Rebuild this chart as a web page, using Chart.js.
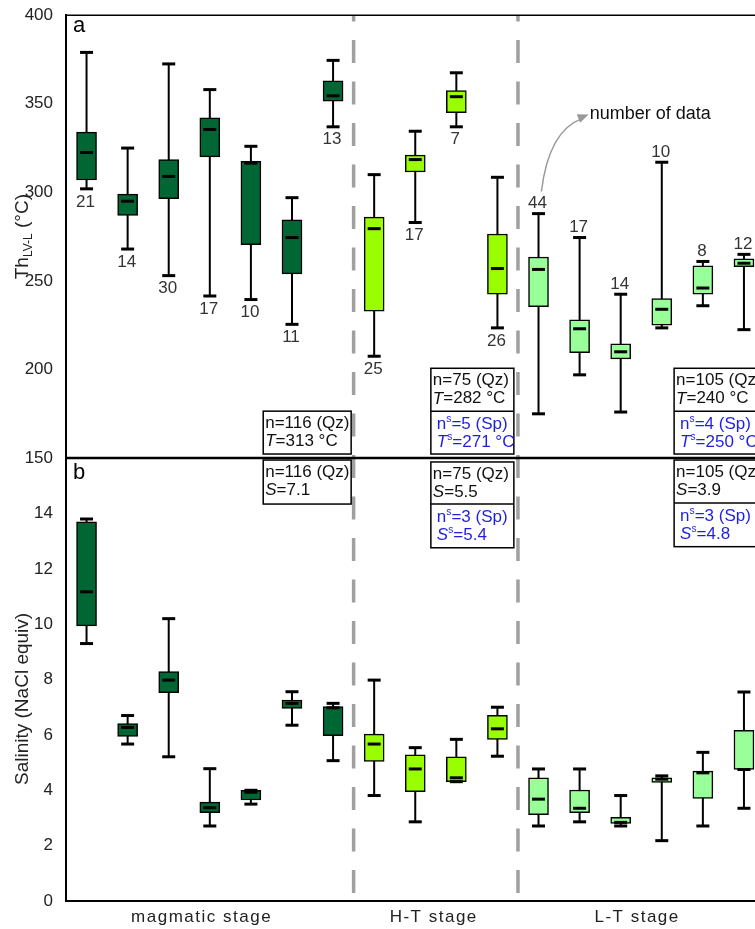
<!DOCTYPE html>
<html>
<head>
<meta charset="utf-8">
<script src="https://cdn.jsdelivr.net/npm/chart.js@4.4.1/dist/chart.umd.min.js"></script>
<style>
  html, body { margin: 0; padding: 0; background: #fff; overflow: hidden; }
  #wrap { width: 755px; height: 929px; overflow: hidden; }
  canvas { display: block; }
</style>
</head>
<body>
<div id="wrap"><canvas id="myChart" width="800" height="929"></canvas></div>
<script>
// data, one entry per box (positions 1..17)
const stages = ['magmatic stage', 'H-T stage', 'L-T stage'];
const stageOf = [0, 0, 0, 0, 0, 0, 0, 1, 1, 1, 1, 2, 2, 2, 2, 2, 2];
const counts = [21, 14, 30, 17, 10, 11, 13, 25, 17, 7, 26, 44, 17, 14, 10, 8, 12];

// Th LV-L (°C)
const thMax = [379, 325, 372.5, 358, 326, 297, 374.5, 310, 334.5, 367.5, 308.5, 288, 274.5, 242.5, 317, 261, 265];
const thQ3  = [334, 299, 318.5, 342, 317.5, 284.5, 363, 286, 321, 357.5, 276.5, 263.5, 228, 214.5, 240, 258.5, 262.5];
const thMed = [322.5, 295, 309, 335.5, 316.5, 274.5, 354.5, 279.5, 318.5, 354, 257, 256.5, 223, 210, 234, 246, 260];
const thQ1  = [307, 287, 296.5, 320, 270.5, 254, 351.5, 233, 311.5, 345, 242.5, 235.5, 209.5, 206, 225, 242.5, 258];
const thMin = [302, 268, 253, 241.5, 239.5, 225.5, 337, 207.5, 283, 337, 223.5, 175, 197, 176, 223.5, 236, 222.5];

// Salinity (wt% NaCl equiv)
const salMax = [13.8, 6.7, 10.2, 4.78, 4.0, 7.56, 7.14, 7.98, 5.54, 5.84, 7.0, 4.77, 4.77, 3.81, 4.52, 5.37, 7.55];
const salQ3  = [13.7, 6.41, 8.29, 3.57, 4.0, 7.26, 7.02, 6.03, 5.28, 5.21, 6.71, 4.45, 4.01, 3.02, 4.45, 4.69, 6.17];
const salMed = [11.17, 6.27, 7.98, 3.37, 3.93, 7.14, 6.98, 5.67, 4.77, 4.45, 6.22, 3.68, 3.35, 2.84, 4.40, 4.63, 4.75];
const salQ1  = [9.94, 5.95, 7.53, 3.19, 3.65, 6.96, 5.97, 5.04, 3.95, 4.31, 5.84, 3.12, 3.19, 2.80, 4.28, 3.71, 4.75];
const salMin = [9.30, 5.67, 5.21, 2.71, 3.50, 6.35, 5.07, 3.81, 2.86, 4.31, 5.23, 2.71, 2.86, 2.71, 2.18, 2.71, 3.35];

const stageColors = ['#006633', '#99ff00', '#99ff99'];
const FONT = '"Liberation Sans", Arial, sans-serif';
const BLUE = '#1f1fe0';

// summary boxes: [scale, x0, x1, top, mid, bottom, black lines, blue lines]
const notes = [
  ['yT', 5.3, 7.44, 176.5, null, 152.3, [[['n=116 (Qz)']], [['T', 'i'], ['=313 °C']]], null],
  ['yT', 9.38, 11.4, 200.7, 176.5, 152.3, [[['n=75 (Qz)']], [['T', 'i'], ['=282 °C']]],
    [[['n'], ['s', 'sup'], ['=5 (Sp)']], [['T', 'i'], ['s', 'sup'], ['=271 °C']]]],
  ['yT', 15.3, 17.6, 200.7, 176.5, 152.3, [[['n=105 (Qz)']], [['T', 'i'], ['=240 °C']]],
    [[['n'], ['s', 'sup'], ['=4 (Sp)']], [['T', 'i'], ['s', 'sup'], ['=250 °C']]]],
  ['yS', 5.3, 7.44, 15.93, null, 14.34, [[['n=116 (Qz)']], [['S', 'i'], ['=7.1']]], null],
  ['yS', 9.38, 11.4, 15.86, 14.34, 12.76, [[['n=75 (Qz)']], [['S', 'i'], ['=5.5']]],
    [[['n'], ['s', 'sup'], ['=3 (Sp)']], [['S', 'i'], ['s', 'sup'], ['=5.4']]]],
  ['yS', 15.3, 17.6, 15.93, 14.38, 12.8, [[['n=105 (Qz)']], [['S', 'i'], ['=3.9']]],
    [[['n'], ['s', 'sup'], ['=3 (Sp)']], [['S', 'i'], ['s', 'sup'], ['=4.8']]]]
];

function drawRich(ctx, x, y, parts, color, size) {
  ctx.fillStyle = color;
  ctx.textBaseline = 'middle';
  ctx.textAlign = 'left';
  for (const [t, st] of parts) {
    if (st === 'sup') {
      ctx.font = (size * 0.6) + 'px ' + FONT;
      ctx.fillText(t, x, y - size * 0.3);
    } else {
      ctx.font = (st === 'i' ? 'italic ' : '') + size + 'px ' + FONT;
      ctx.fillText(t, x, y);
    }
    x += ctx.measureText(t).width;
  }
}

const boxPlot = {
  id: 'boxPlot',
  beforeDatasetsDraw(chart) {
    const {ctx, chartArea, scales: {x, yT, yS}} = chart;
    // stage dividers
    ctx.save();
    ctx.strokeStyle = '#a0a0a0';
    ctx.lineWidth = 3.5;
    ctx.setLineDash([23, 18.5]);
    ctx.lineDashOffset = 16.7;
    [7.5, 11.5].forEach(v => {
      const px = x.getPixelForValue(v);
      ctx.beginPath();
      ctx.moveTo(px, chartArea.top);
      ctx.lineTo(px, chartArea.bottom);
      ctx.stroke();
    });
    ctx.restore();
    // whiskers
    ctx.save();
    ctx.strokeStyle = '#000';
    ctx.lineWidth = 2;
    [[yT, thMin, thMax], [yS, salMin, salMax]].forEach(([ys, lo, hi]) => {
      lo.forEach((v, i) => {
        const px = x.getPixelForValue(i + 1);
        ctx.beginPath();
        ctx.moveTo(px, ys.getPixelForValue(v));
        ctx.lineTo(px, ys.getPixelForValue(hi[i]));
        ctx.stroke();
      });
    });
    ctx.restore();
  },
  afterDatasetsDraw(chart) {
    const {ctx, scales: {x, yT, yS}} = chart;
    ctx.save();
    ctx.strokeStyle = '#000';
    ctx.lineWidth = 3;
    const hline = (px, py, w) => {
      ctx.beginPath();
      ctx.moveTo(px - w / 2, py);
      ctx.lineTo(px + w / 2, py);
      ctx.stroke();
    };
    [[yT, thMin, thMed, thMax], [yS, salMin, salMed, salMax]].forEach(([ys, lo, med, hi]) => {
      lo.forEach((v, i) => {
        const px = x.getPixelForValue(i + 1);
        hline(px, ys.getPixelForValue(v), 13);
        hline(px, ys.getPixelForValue(hi[i]), 13);
        hline(px, ys.getPixelForValue(med[i]), 13);
      });
    });
    // counts
    ctx.fillStyle = '#333';
    ctx.font = '17px ' + FONT;
    ctx.textAlign = 'center';
    ctx.textBaseline = 'middle';
    counts.forEach((n, i) => {
      const px = x.getPixelForValue(i + 1);
      if (stageOf[i] < 2) ctx.fillText(String(n), px - 1, yT.getPixelForValue(thMin[i]) + 13);
      else ctx.fillText(String(n), px - 1, yT.getPixelForValue(thMax[i]) - 10);
    });
    ctx.restore();
  },
  afterDraw(chart) {
    const {ctx, chartArea: ca, scales} = chart;
    const {x, yT, yS} = scales;
    ctx.save();
    // frame
    ctx.strokeStyle = '#000';
    ctx.lineWidth = 1.5;
    ctx.beginPath(); ctx.moveTo(ca.left, ca.top); ctx.lineTo(ca.right, ca.top); ctx.stroke();
    ctx.lineWidth = 2.5;
    const mid = yT.getPixelForValue(150);
    ctx.beginPath(); ctx.moveTo(ca.left, mid); ctx.lineTo(ca.right, mid); ctx.stroke();
    ctx.lineWidth = 2;
    ctx.beginPath(); ctx.moveTo(ca.left, ca.bottom); ctx.lineTo(ca.right, ca.bottom); ctx.stroke();

    // summary boxes
    notes.forEach(([sid, x0, x1, top, midv, bot, black, blue]) => {
      const ys = scales[sid];
      const l = x.getPixelForValue(x0), r = x.getPixelForValue(x1);
      const t = ys.getPixelForValue(top), b = ys.getPixelForValue(bot);
      ctx.fillStyle = '#fff';
      ctx.fillRect(l, t, r - l, b - t);
      ctx.strokeStyle = '#000';
      ctx.lineWidth = 1.5;
      ctx.strokeRect(l, t, r - l, b - t);
      black.forEach((ln, k) => drawRich(ctx, l + 2, t + 12 + k * 18.5, ln, '#111', 17));
      if (blue) {
        const m = ys.getPixelForValue(midv);
        ctx.beginPath(); ctx.moveTo(l, m); ctx.lineTo(r, m); ctx.stroke();
        blue.forEach((ln, k) => drawRich(ctx, l + 6, m + 13 + k * 18, ln, BLUE, 17));
      }
    });

    // panel letters
    ctx.fillStyle = '#000';
    ctx.font = '22px ' + FONT;
    ctx.textAlign = 'left';
    ctx.textBaseline = 'middle';
    ctx.fillText('a', ca.left + 7, ca.top + 11);
    ctx.fillText('b', ca.left + 7, mid + 15);

    // axis titles
    ctx.fillStyle = '#222';
    ctx.save();
    ctx.translate(23, (yT.top + yT.bottom) / 2);
    ctx.rotate(-Math.PI / 2);
    ctx.font = '19px ' + FONT;
    const w1 = ctx.measureText('Th').width;
    ctx.font = '12px ' + FONT;
    const w2 = ctx.measureText('LV-L').width;
    ctx.font = '19px ' + FONT;
    const w3 = ctx.measureText(' (°C)').width;
    let sx = -(w1 + w2 + w3) / 2;
    ctx.textAlign = 'left';
    ctx.fillText('Th', sx, 0); sx += w1;
    ctx.font = '12px ' + FONT;
    ctx.fillText('LV-L', sx, 6); sx += w2;
    ctx.font = '19px ' + FONT;
    ctx.fillText(' (°C)', sx, 0);
    ctx.restore();

    ctx.save();
    ctx.translate(23, yS.getPixelForValue(7.3));
    ctx.rotate(-Math.PI / 2);
    ctx.font = '19px ' + FONT;
    ctx.textAlign = 'center';
    ctx.fillText('Salinity (NaCl equiv)', 0, 0);
    ctx.restore();

    // stage labels
    ctx.font = '17px ' + FONT;
    ctx.letterSpacing = '1.5px';
    ctx.textAlign = 'center';
    ctx.fillStyle = '#222';
    [3.8, 9.45, 14.4].forEach((v, k) => ctx.fillText(stages[k], x.getPixelForValue(v), ca.bottom + 16));
    ctx.letterSpacing = '0px';

    // "number of data" pointer
    const sx0 = x.getPixelForValue(12.07), sy0 = yT.getPixelForValue(300.5);
    const ex = x.getPixelForValue(13.22), ey = yT.getPixelForValue(344);
    const cx = x.getPixelForValue(12.25), cy = yT.getPixelForValue(335);
    ctx.strokeStyle = '#999';
    ctx.lineWidth = 1.5;
    ctx.beginPath();
    ctx.moveTo(sx0, sy0);
    ctx.quadraticCurveTo(cx, cy, ex - 6, ey + 4);
    ctx.stroke();
    const ang = Math.atan2(ey - cy, ex - cx);
    ctx.fillStyle = '#999';
    ctx.beginPath();
    ctx.moveTo(ex, ey);
    ctx.lineTo(ex - 11 * Math.cos(ang) + 4.5 * Math.sin(ang), ey - 11 * Math.sin(ang) - 4.5 * Math.cos(ang));
    ctx.lineTo(ex - 11 * Math.cos(ang) - 4.5 * Math.sin(ang), ey - 11 * Math.sin(ang) + 4.5 * Math.cos(ang));
    ctx.closePath();
    ctx.fill();
    ctx.fillStyle = '#111';
    ctx.font = '18px ' + FONT;
    ctx.textAlign = 'left';
    ctx.fillText('number of data', ex + 1, ey);
    ctx.restore();
  }
};

const colors = stageOf.map(s => stageColors[s]);
const data = {
  datasets: [{
    label: 'Th',
    yAxisID: 'yT',
    data: thQ1.map((v, i) => ({x: i + 1, y: [v, thQ3[i]]})),
    backgroundColor: colors,
    borderColor: '#000',
    borderWidth: 1.5,
    borderSkipped: false,
    barThickness: 20,
    grouped: false
  }, {
    label: 'Salinity',
    yAxisID: 'yS',
    data: salQ1.map((v, i) => ({x: i + 1, y: [v, salQ3[i]]})),
    backgroundColor: colors,
    borderColor: '#000',
    borderWidth: 1.5,
    borderSkipped: false,
    barThickness: 20,
    grouped: false
  }]
};

const tickFont = {family: FONT, size: 17};
const config = {
  type: 'bar',
  data,
  options: {
    responsive: false,
    animation: false,
    layout: {padding: {top: 13, bottom: 28, left: 0, right: 35.5}},
    plugins: {legend: {display: false}, tooltip: {enabled: false}},
    scales: {
      x: {type: 'linear', min: 0.5, max: 17.5, offset: false, display: false},
      yT: {
        type: 'linear', position: 'left', stack: 'panels', stackWeight: 1, weight: 1,
        min: 150, max: 400,
        ticks: {stepSize: 50, color: '#222', font: tickFont, padding: 5},
        grid: {display: false},
        border: {display: true, color: '#000', width: 2},
        afterFit: s => { s.width = 66; }
      },
      yS: {
        type: 'linear', position: 'left', stack: 'panels', stackWeight: 1, weight: 0,
        min: 0, max: 16,
        ticks: {stepSize: 2, color: '#222', font: tickFont, padding: 5,
          callback: v => (v > 14 ? '' : v)},
        grid: {display: false},
        border: {display: true, color: '#000', width: 2},
        afterFit: s => { s.width = 66; }
      }
    }
  },
  plugins: [boxPlot]
};

const ctx = document.getElementById('myChart');
const myChart = new Chart(ctx, config);
</script>
</body>
</html>
